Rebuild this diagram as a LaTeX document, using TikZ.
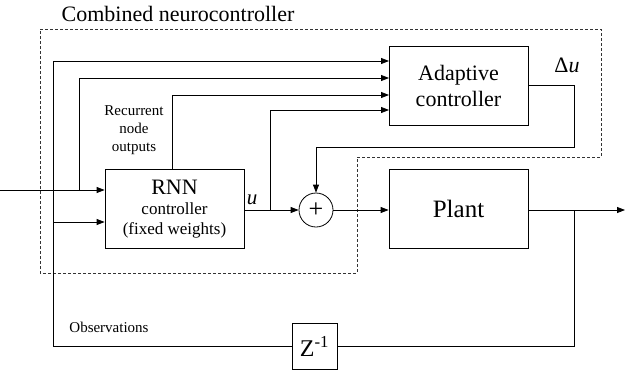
\documentclass[tikz,border=0pt]{standalone}
\usepackage{fontspec}
\setmainfont{Liberation Serif}
\usetikzlibrary{arrows.meta}
\begin{document}
\begin{tikzpicture}[x=1pt,y=-1pt,
  blk/.style={draw, line width=0.8pt, inner sep=0pt, align=center},
  arr/.style={-{Triangle[length=8pt,width=6pt]}},
  lbl/.style={inner sep=0pt, align=center},
  every path/.style={line width=0.8pt}]
\useasboundingbox (0,0) rectangle (634,375);
% dashed region
\draw[dash pattern=on 3pt off 2pt, line width=0.6pt, black!80]
  (40,29) -- (601,29) -- (601,157) -- (357,157) -- (357,273) -- (40,273) -- cycle;
% blocks
\node[blk, minimum width=139pt, minimum height=79pt, font=\fontsize{22}{26}\selectfont] (adc) at (458.5,85.5) {Adaptive\\controller};
\node[blk, minimum width=139pt, minimum height=79pt, font=\fontsize{17}{21}\selectfont] (rnn) at (174.5,209) {{\fontsize{22}{22}\selectfont RNN}\\[-1pt]controller\\[-1pt](fixed weights)};
\node[blk, minimum width=139pt, minimum height=79pt, font=\fontsize{25}{28}\selectfont] (plant) at (458.5,209) {Plant};
\node[blk, minimum width=45pt, minimum height=46pt, font=\fontsize{24}{26}\selectfont] (z) at (314.5,346) {Z\textsuperscript{-1}};
\node[draw, circle, minimum size=34pt, inner sep=0pt, font=\fontsize{26}{26}\selectfont] (sum) at (316,210) {+};
% labels
\node[lbl, font=\fontsize{22}{24}\selectfont] (title) at (178,14) {Combined neurocontroller};
\node[lbl, font=\fontsize{15}{18}\selectfont] (rec) at (134,130) {Recurrent\\node\\outputs};
\node[lbl, font=\fontsize{15}{18}\selectfont] (obs) at (109,327) {Observations};
\node[lbl, font=\fontsize{22}{24}\selectfont] (du) at (567,65) {Δ\textit{u}};
\node[lbl, font=\fontsize{21}{24}\selectfont] (ul) at (252,200) {\textit{u}};
% coordinates
\coordinate (in) at (0,190);
\coordinate (j1) at (79,190);
\coordinate (t1) at (53,61);
\coordinate (o2) at (53,222);
\coordinate (a1) at (389,61);
\coordinate (a2) at (389,78);
\coordinate (a3) at (389,95);
\coordinate (a4) at (389,110);
\coordinate (rc) at (172,169.5);
\coordinate (ub) at (270,210);
\coordinate (du2) at (574,147);
\coordinate (pb) at (574,210);
\coordinate (out) at (625,210);
% connectors
\draw[arr] (in) -- (rnn.west |- in);
\draw[arr] (j1) |- (a2);
\draw[arr] (z.west) -| (t1) -- (a1);
\draw[arr] (o2) -- (rnn.west |- o2);
\draw[arr] (rc) |- (a3);
\draw[arr] (rnn.east |- sum) -- (sum.west);
\draw[arr] (ub) |- (a4);
\draw[arr] (adc.east) -| (du2) -| (sum.north);
\draw[arr] (sum.east) -- (plant.west |- sum);
\draw[arr] (plant.east |- pb) -- (out);
\draw (pb) |- (z.east);
\end{tikzpicture}
\end{document}
